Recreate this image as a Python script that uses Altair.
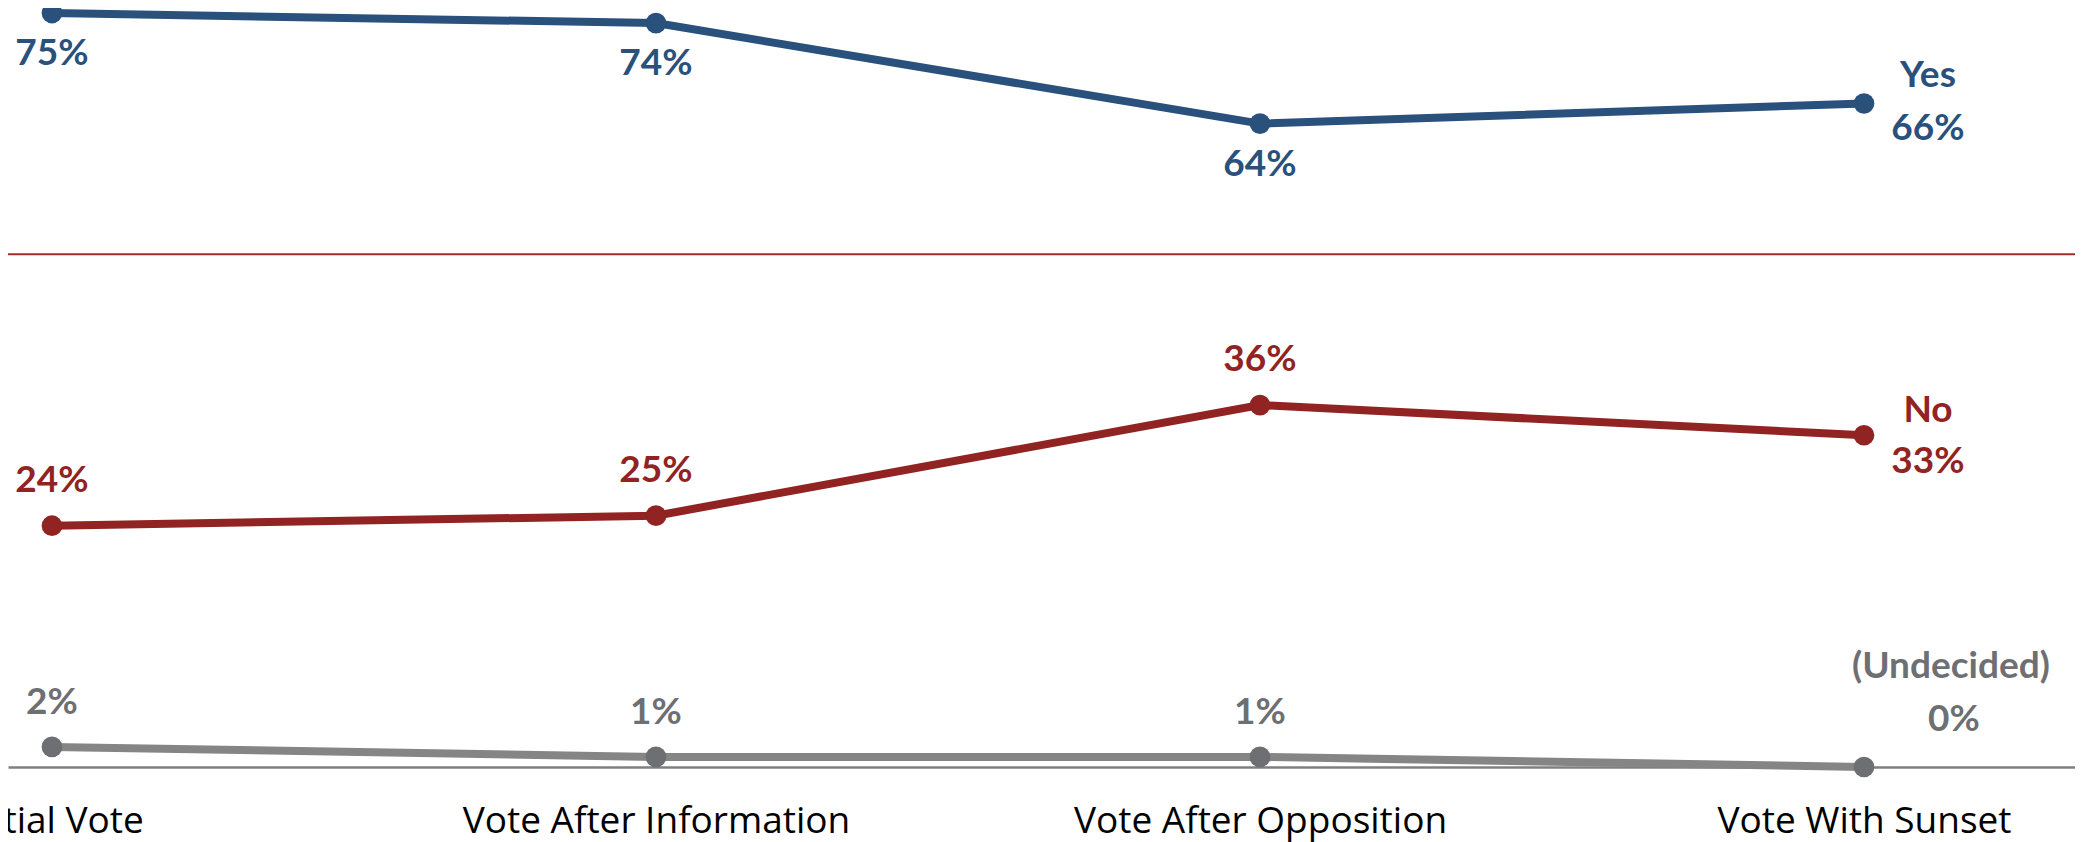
import altair as alt
import pandas as pd

# ---- data ----
stages = ["Initial Vote", "Vote After Information", "Vote After Opposition", "Vote With Sunset"]
yes_vals = [75, 74, 64, 66]
no_vals = [24, 25, 36, 33]
undecided_vals = [2, 1, 1, 0]
series_names = ["Yes", "No", "(Undecided)"]
majority_line = [51]

# ---- styles ----
BLUE = "#2A507C"
RED = "#912322"
GRAY_LINE = "#858585"
GRAY_DARK = "#6E6F73"
RULE_RED = "#A82A2A"
FONT = "Lato"
AXIS_FONT = "Open Sans"
LABEL_SIZE = 37

W, H = 2067, 759
last_stage = stages[-1]

x_enc = alt.X(
    "stage:N",
    sort=stages,
    scale=alt.Scale(type="point", padding=0.2111, align=0.1725),
    axis=alt.Axis(
        title=None, labelFont=AXIS_FONT, labelFontSize=37, labelColor="#000000",
        labelPadding=36, ticks=False, domainColor="#7F7F7F", domainWidth=2.5,
        grid=False, labelAngle=0, labelOverlap=False, labelLimit=0,
    ),
)
y_scale = alt.Scale(domain=[0, 75.5], nice=False, zero=True)


def series_df(name, vals):
    return pd.DataFrame({
        "stage": stages,
        "value": vals,
        "series": [name] * len(vals),
        "label": [f"{v}%" for v in vals],
    })


rule = alt.Chart(pd.DataFrame({"v": majority_line})).mark_rule(
    color=RULE_RED, strokeWidth=2
).encode(y=alt.Y("v:Q", scale=y_scale, axis=None))

specs = [
    # name, values, line colour, point colour, label dy, name dx, name dy, value dx, value dy
    (series_names[0], yes_vals, BLUE, BLUE, 41, 64, -28, 64, 25),
    (series_names[1], no_vals, RED, RED, -45, 64, -24, 64, 27),
    (series_names[2], undecided_vals, GRAY_LINE, GRAY_DARK, -44, 87, -100, 90, -47),
]

layers = [rule]
for name, vals, lc, pc, ldy, ndx, ndy, vdx, vdy in specs:
    base = alt.Chart(series_df(name, vals)).encode(
        x=x_enc, y=alt.Y("value:Q", scale=y_scale, axis=None)
    )
    layers.append(base.mark_line(color=lc, strokeWidth=8))
    layers.append(base.mark_circle(color=pc, size=430, opacity=1))
    layers.append(
        base.transform_filter(alt.datum.stage != last_stage)
        .mark_text(font=FONT, fontWeight="bold", fontSize=LABEL_SIZE, color=pc,
                   baseline="middle", align="center", dy=ldy)
        .encode(text="label:N")
    )
    last = base.transform_filter(alt.datum.stage == last_stage)
    layers.append(
        last.mark_text(font=FONT, fontWeight="bold", fontSize=LABEL_SIZE, color=pc,
                       baseline="middle", align="center", dx=ndx, dy=ndy)
        .encode(text="series:N")
    )
    layers.append(
        last.mark_text(font=FONT, fontWeight="bold", fontSize=LABEL_SIZE, color=pc,
                       baseline="middle", align="center", dx=vdx, dy=vdy)
        .encode(text="label:N")
    )

chart = alt.layer(*layers).properties(
    width=W,
    height=H,
    autosize=alt.AutoSizeParams(type="none"),
    padding={"left": 0, "top": 0, "right": 0, "bottom": 76},
    background="white",
).configure_view(stroke=None)

chart.save("out.html", embed_options={"renderer": "svg", "actions": False})
